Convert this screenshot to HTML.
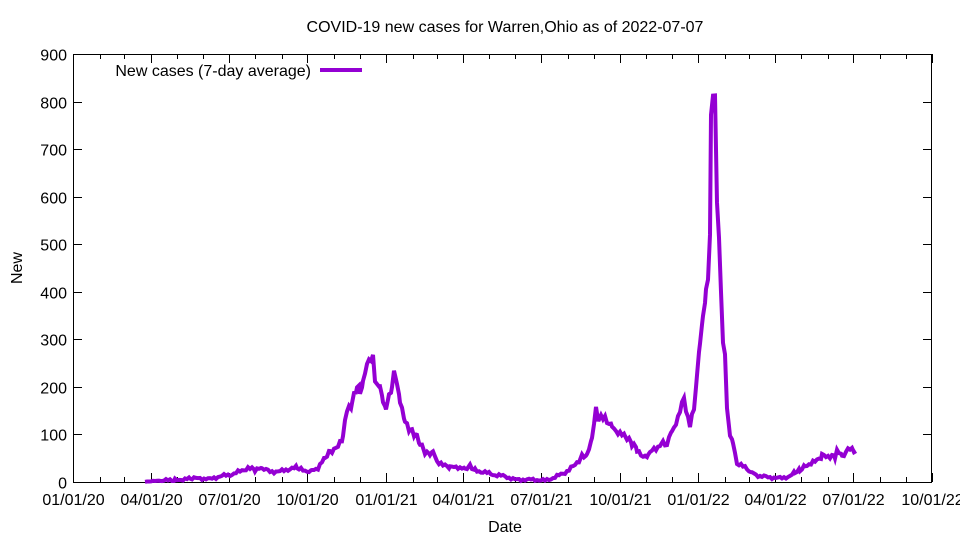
<!DOCTYPE html>
<html><head><meta charset="utf-8"><style>
html,body{margin:0;padding:0;background:#fff}
svg{display:block;font-family:"Liberation Sans",sans-serif}
</style></head><body>
<svg id="s" width="960" height="540" xmlns="http://www.w3.org/2000/svg">
<rect x="0" y="0" width="960" height="540" fill="#fff"/>
<g id="ax" stroke="#000" stroke-width="1" fill="none"></g>
<g id="lab" font-size="16" fill="#000"></g>
<text x="505" y="32" font-size="16" text-anchor="middle">COVID-19 new cases for Warren,Ohio as of 2022-07-07</text>
<text x="505" y="532" font-size="16" text-anchor="middle">Date</text>
<text x="22" y="268" font-size="16" text-anchor="middle" transform="rotate(-90 22 268)">New</text>
<text x="311" y="76" font-size="16" text-anchor="end">New cases (7-day average)</text>
<line x1="320" y1="70" x2="362" y2="70" stroke="#9400d3" stroke-width="4"/>
<polyline id="d" fill="none" stroke="#9400d3" stroke-width="4" stroke-linejoin="miter"/>
</svg>
<script>
var L=73,R=932,T=54,B=482;
var ax=document.getElementById('ax'),lab=document.getElementById('lab');
function ln(a,b,c,d){var e=document.createElementNS('http://www.w3.org/2000/svg','line');e.setAttribute('x1',a);e.setAttribute('y1',b);e.setAttribute('x2',c);e.setAttribute('y2',d);ax.appendChild(e);}
function tx(x,y,s,a){var e=document.createElementNS('http://www.w3.org/2000/svg','text');e.setAttribute('x',x);e.setAttribute('y',y);e.setAttribute('text-anchor',a);e.textContent=s;lab.appendChild(e);}
var rect=document.createElementNS('http://www.w3.org/2000/svg','rect');rect.setAttribute('x',L+.5);rect.setAttribute('y',T+.5);rect.setAttribute('width',R-L-1);rect.setAttribute('height',B-T);ax.appendChild(rect);
for(var v=0;v<=900;v+=100){var y=Math.round(B-(v/900)*(B-T))+.5;ln(L,y,L+9,y);ln(R,y,R-9,y);tx(L-6,y+6,String(v),'end');}
var px=(R-L)/1004;
var labs=['01/01/20','04/01/20','07/01/20','10/01/20','01/01/21','04/01/21','07/01/21','10/01/21','01/01/22','04/01/22','07/01/22','10/01/22'];
var t0=Date.UTC(2020,0,1);
for(var m=0;m<=33;m++){var d=Date.UTC(2020,m,1);var x=Math.round(L+(d-t0)/864e5*px)+.5;var len=(m%3==0)?9:5;ln(x,B,x,B-len);ln(x,T,x,T+len);if(m%3==0)tx(x,B+23,labs[m/3],'middle');}
var pts=[145,0,160,3,175,4,190,7,200,8,210,6,220,12,230,15,240,22,248,30,255,25,262,28,270,22,280,22,290,28,297,30,305,22,312,25,318,30,325,50,330,65,338,72,343,95,347,150,352,165,357,200,360,190,363,210,367,255,373,258,375,210,380,200,383,165,386,160,389,180,392,195,394,230,397,205,400,175,405,130,410,110,415,100,420,80,425,62,430,60,433,65,437,45,443,35,450,30,458,32,465,28,470,35,475,25,485,20,495,15,505,12,515,5,525,5,535,5,545,3,555,10,565,20,575,35,582,55,587,55,592,90,596,150,599,130,605,135,612,120,620,100,625,95,632,80,637,70,643,50,648,55,652,65,658,75,663,85,667,80,672,110,678,130,684,180,686,155,690,120,694,150,697,220,700,300,703,345,706,400,708,420,710,520,711,770,713,810,715,810,717,580,719,520,721,400,723,300,725,270,727,150,730,100,733,85,737,40,745,30,752,20,760,12,770,10,780,8,790,12,795,20,800,25,805,35,815,42,822,55,835,55,837,68,842,55,848,68,856,65];
var s='';
for(var i=0;i<pts.length-2;i+=2){var x0=pts[i],v0=pts[i+1],x1=pts[i+2],v1=pts[i+3];
 for(var x=x0;x<x1;x+=2){var f=(x-x0)/(x1-x0);var v=v0+(v1-v0)*f;var n=(Math.sin(x*2.7)+Math.sin(x*1.3))*Math.min(1.5+v*0.025,5);if(v<3)n=Math.abs(n)*0.3;s+=x+','+(B-(v+n)*(B-T)/900).toFixed(1)+' ';}}
s+=pts[pts.length-2]+','+(B-pts[pts.length-1]*(B-T)/900).toFixed(1);
document.getElementById('d').setAttribute('points',s);
</script>
</body></html>
